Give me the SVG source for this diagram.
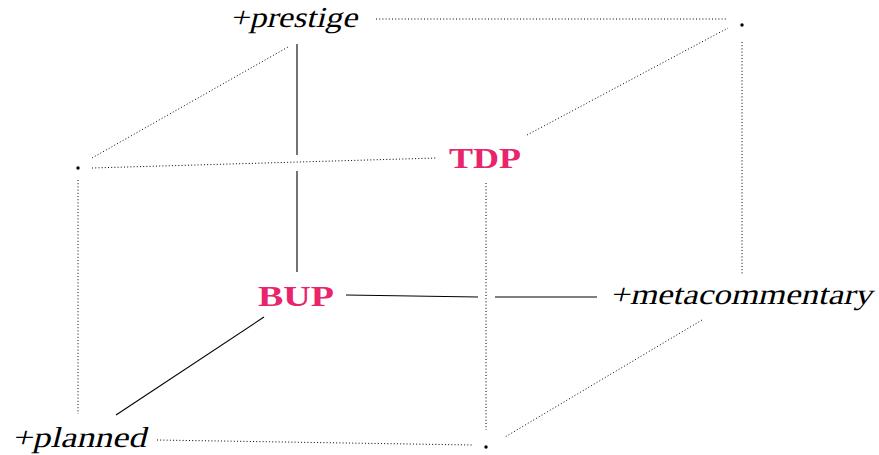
<svg xmlns="http://www.w3.org/2000/svg" width="879" height="455" viewBox="0 0 879 455">
<style>
.it{font-family:"Liberation Serif","DejaVu Serif",serif;font-size:29px;fill:#000}
.bd{font-family:"Liberation Serif","DejaVu Serif",serif;font-weight:bold;font-size:30px;fill:#e8246a}
.solid{stroke:#000;stroke-width:1.1;fill:none}
.dot{stroke:#000;stroke-width:1;stroke-dasharray:1 2.2;fill:none}
</style>
<rect width="879" height="455" fill="#fff"/>
<g id="connectors">
<line class="solid" x1="297" y1="44" x2="297" y2="155"/>
<line class="solid" x1="297" y1="171" x2="297" y2="272"/>
<line class="solid" x1="346" y1="295" x2="478" y2="297"/>
<line class="solid" x1="495" y1="297" x2="597" y2="297"/>
<line class="solid" x1="264" y1="317" x2="116" y2="415"/>
<line class="dot" x1="376" y1="19" x2="728" y2="19"/>
<line class="dot" x1="92" y1="158" x2="288" y2="47"/>
<line class="dot" x1="92" y1="168" x2="437" y2="158"/>
<line class="dot" x1="527" y1="135" x2="728" y2="28"/>
<line class="dot" x1="742" y1="42" x2="742" y2="275"/>
<line class="dot" x1="486" y1="183" x2="486" y2="430"/>
<line class="dot" x1="78" y1="180" x2="78" y2="414"/>
<line class="dot" x1="157" y1="440" x2="472" y2="445"/>
<line class="dot" x1="702" y1="320" x2="505" y2="437"/>
</g>
<g id="prestige" transform="translate(230,27) skewX(-14)"><text class="it" x="0" y="0" textLength="127" lengthAdjust="spacingAndGlyphs">+prestige</text></g>
<g id="dot-topright"><circle cx="742" cy="25" r="1.7"/></g>
<g id="dot-left"><circle cx="78" cy="168" r="1.7"/></g>
<g id="TDP"><text class="bd" x="449" y="168" textLength="72" lengthAdjust="spacingAndGlyphs">TDP</text></g>
<g id="BUP"><text class="bd" x="258" y="306" textLength="76" lengthAdjust="spacingAndGlyphs">BUP</text></g>
<g id="metacommentary" transform="translate(610,304) skewX(-14)"><text class="it" x="0" y="0" textLength="262" lengthAdjust="spacingAndGlyphs">+metacommentary</text></g>
<g id="planned" transform="translate(12,447) skewX(-14)"><text class="it" x="0" y="0" textLength="134" lengthAdjust="spacingAndGlyphs">+planned</text></g>
<g id="dot-bottom"><circle cx="486" cy="447" r="1.7"/></g>
</svg>
